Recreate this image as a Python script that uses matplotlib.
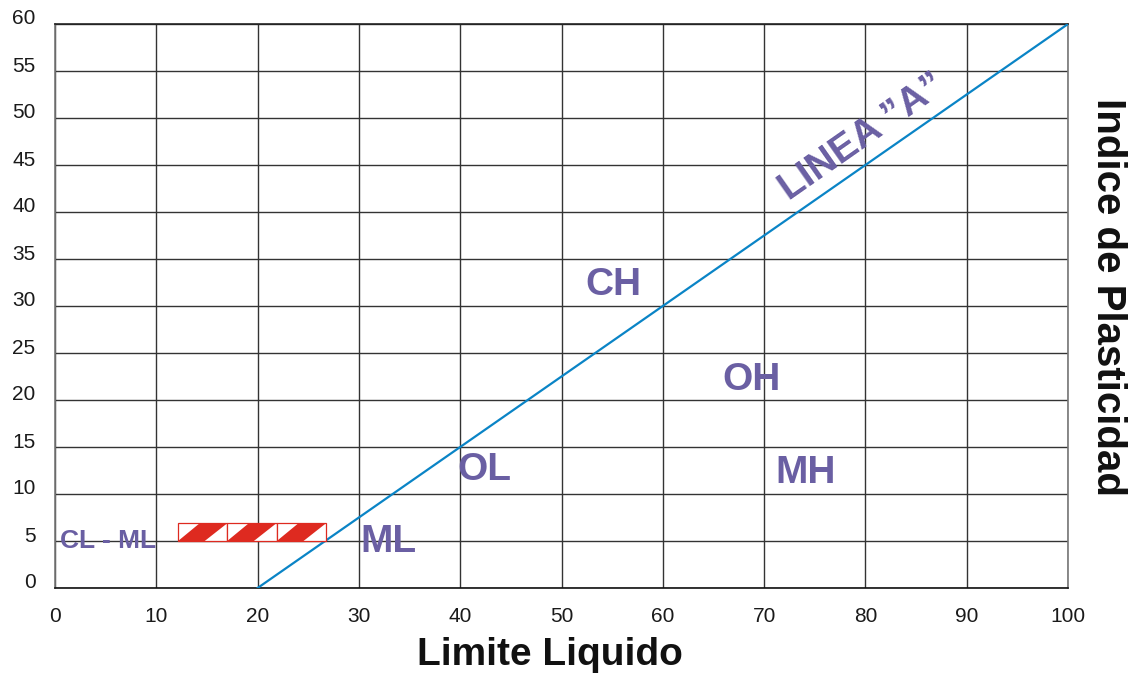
import matplotlib
matplotlib.use("Agg")
import matplotlib.pyplot as plt
import matplotlib.transforms as mtransforms
from matplotlib.patches import Rectangle, Polygon

plt.rcParams['font.family'] = ['Liberation Sans', 'DejaVu Sans']

# ejes
x_ticks = [0, 10, 20, 30, 40, 50, 60, 70, 80, 90, 100]
y_ticks = [0, 5, 10, 15, 20, 25, 30, 35, 40, 45, 50, 55, 60]

# linea "A" (extremos)
linea_a_ll = [20, 100]
linea_a_ip = [0, 60]

# franja CL - ML (tres tramos rayados)
franja_inicio = [12.15, 17.0, 21.9]
franja_ancho = 4.87
franja_ip = [5.0, 6.9]

# etiquetas de zonas: texto, LL, IP
zonas = ['CL - ML', 'ML', 'OL', 'CH', 'OH', 'MH']
zonas_ll = [5.2, 32.9, 42.4, 55.1, 68.8, 74.1]
zonas_ip = [5.0, 4.9, 12.6, 32.2, 22.1, 12.2]
zonas_size = [19, 28, 28, 28, 28, 28]

morado = '#6a5fa3'
azul = '#0a84c6'
rojo = '#de2a20'

fig = plt.figure(figsize=(11.35, 6.79), dpi=100)
ax = fig.add_axes([55 / 1135, 1 - 588 / 679, 1013 / 1135, 564 / 679])
ax.set_xlim(0, 100)
ax.set_ylim(0, 60)

ax.set_xticks(x_ticks)
ax.set_yticks(y_ticks)
ax.grid(True, color='#333333', linewidth=1.0)
ax.set_axisbelow(True)
ax.tick_params(length=0, labelsize=15, labelcolor='#1a1a1a')
ax.tick_params(axis='x', pad=14)
ax.tick_params(axis='y', pad=14)

# subir un poco las etiquetas del eje y
offset = mtransforms.ScaledTranslation(0, 7 / 100, fig.dpi_scale_trans)
for lbl in ax.get_yticklabels():
    lbl.set_transform(lbl.get_transform() + offset)

ax.spines['left'].set_color('#777777')
ax.spines['right'].set_color('#777777')
ax.spines['top'].set_color('#222222')
ax.spines['bottom'].set_color('#111111')
for s in ax.spines.values():
    s.set_linewidth(1.2)

# linea A
ax.plot(linea_a_ll, linea_a_ip, color=azul, linewidth=1.6, zorder=3)

# franja CL-ML
y0, y1 = franja_ip
for x0 in franja_inicio:
    w = franja_ancho
    ax.add_patch(Rectangle((x0, y0), w, y1 - y0, facecolor='white',
                           edgecolor=rojo, linewidth=0.9, zorder=4))
    ax.add_patch(Polygon([(x0, y0), (x0 + 0.44 * w, y1), (x0 + w, y1),
                          (x0 + 0.54 * w, y0)], closed=True,
                         facecolor=rojo, edgecolor='none', zorder=4))

for txt, lx, ly, fs in zip(zonas, zonas_ll, zonas_ip, zonas_size):
    ax.text(lx, ly, txt, color=morado, fontsize=fs, fontweight='bold',
            ha='center', va='center', zorder=5)

ax.text(79.7, 47.9, 'LINEA \u201dA\u201d', color=morado, fontsize=28,
        fontweight='bold', ha='center', va='center', rotation=35,
        rotation_mode='anchor', zorder=5)

ax.set_xlabel('Limite Liquido', fontsize=28, fontweight='bold', color='#111111')
ax.xaxis.set_label_coords(0.489, -0.119)
ax.xaxis.label.set_va('center')

ax.yaxis.set_label_position('right')
ax.set_ylabel('Indice de Plasticidad', fontsize=29, fontweight='bold',
              color='#111111', rotation=270)
ax.yaxis.set_label_coords(1.0395, 0.516)
ax.yaxis.label.set_va('center')

fig.savefig('out.png', dpi=100)
